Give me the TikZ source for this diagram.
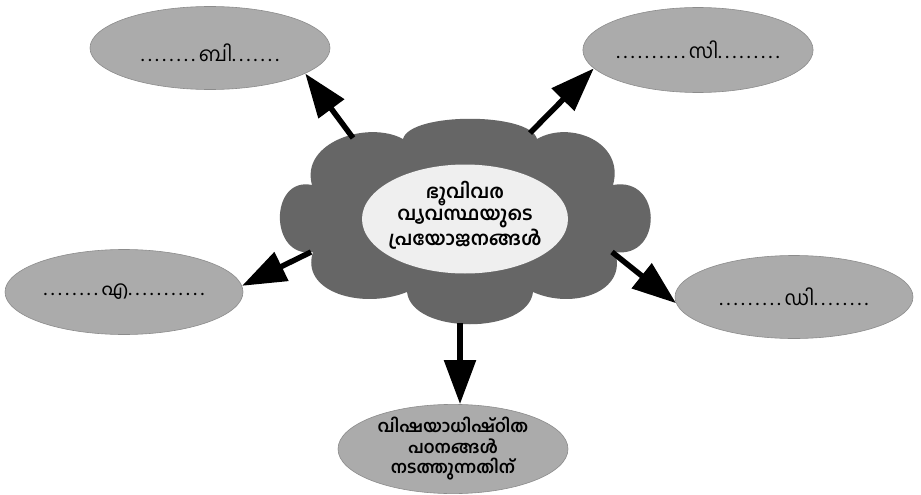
\documentclass[tikz,border=0pt]{standalone}
\usepackage{fontspec}
\newfontfamily\mal[Script=Malayalam]{Hind Kochi}
\usetikzlibrary{shapes.geometric,arrows.meta}
\definecolor{cloudgray}{HTML}{666666}
\definecolor{ovalgray}{HTML}{ABABAB}
\definecolor{innergray}{HTML}{EFEFEF}
\newcommand\dd{.\kern3.9pt}
\tikzset{
  oval/.style={ellipse, fill=ovalgray, draw=gray!90, line width=0.6pt, inner sep=0pt, font=\mal\fontsize{20}{22}\selectfont},
  bigarrow/.style={line width=5.5pt, -{Triangle[length=44pt,width=31pt]}, black},
}
\begin{document}
\begin{tikzpicture}[x=1pt,y=-1pt]
\useasboundingbox (0,0) rectangle (921,495);
\fill[white] (0,0) rectangle (921,495);
% cloud outline through its notches
\coordinate (n1) at (403,139);
\coordinate (n2) at (537,139);
\coordinate (n3) at (613,185);
\coordinate (n4) at (615,252);
\coordinate (n5) at (533,292);
\coordinate (n6) at (407,292);
\coordinate (n7) at (313,252);
\coordinate (n8) at (312,185);
\fill[cloudgray] (n8)
  .. controls (300,142) and (368,120) .. (n1)
  .. controls (410,112) and (530,112) .. (n2)
  .. controls (570,120) and (625,142) .. (n3)
  .. controls (663,176) and (663,259) .. (n4)
  .. controls (628,292) and (573,310) .. (n5)
  .. controls (528,335) and (412,335) .. (n6)
  .. controls (362,310) and (300,292) .. (n7)
  .. controls (269,259) and (269,176) .. (n8) -- cycle;
\node[ellipse, fill=innergray, minimum width=206pt, minimum height=109pt, inner sep=0pt] (center) at (465,219) {};
\node[align=center, font=\mal\bfseries\fontsize{19}{22}\selectfont] (ctext) at (465,215) {ഭൂവിവര\\വ്യവസ്ഥയുടെ\\പ്രയോജനങ്ങൾ};
% outer ovals
\node[oval, minimum width=240pt, minimum height=83pt] (b) at (210,48) {};
\node[font=\mal\fontsize{20}{22}\selectfont] (btext) at (210,53) {\dd\dd\dd\dd\dd\dd\dd\dd ബി\dd\dd\dd\dd\dd\dd.};
\node[oval, minimum width=228pt, minimum height=85pt] (c) at (698,50) {\dd\dd\dd\dd\dd\dd\dd\dd\dd\dd സി\dd\dd\dd\dd\dd\dd\dd\dd.};
\node[oval, minimum width=238pt, minimum height=85pt] (a) at (124,292) {\dd\dd\dd\dd\dd\dd\dd\dd എ\dd\dd\dd\dd\dd\dd\dd\dd\dd\dd.};
\node[oval, minimum width=238pt, minimum height=83pt] (d) at (794,297) {\dd\dd\dd\dd\dd\dd\dd\dd\dd ഡി\dd\dd\dd\dd\dd\dd\dd.};
\node[oval, minimum width=230pt, minimum height=83pt, align=center, font=\mal\bfseries\fontsize{17}{20.5}\selectfont] (e) at (453,449) {വിഷയാധിഷ്ഠിത\\പഠനങ്ങൾ\\നടത്തുന്നതിന്};
% arrows
\coordinate (sb) at (353,138);
\coordinate (sc) at (530,133);
\coordinate (sa) at (311,252);
\coordinate (sd) at (612,252);
\coordinate (se) at (460,323);
\draw[bigarrow] (sb) -- (b.-15);
\draw[bigarrow] (sc) -- (c.190);
\draw[bigarrow] (sa) -- (a.3);
\draw[bigarrow] (sd) -- (d.183);
\draw[bigarrow] (se) -- (e.north -| se);
\end{tikzpicture}
\end{document}
